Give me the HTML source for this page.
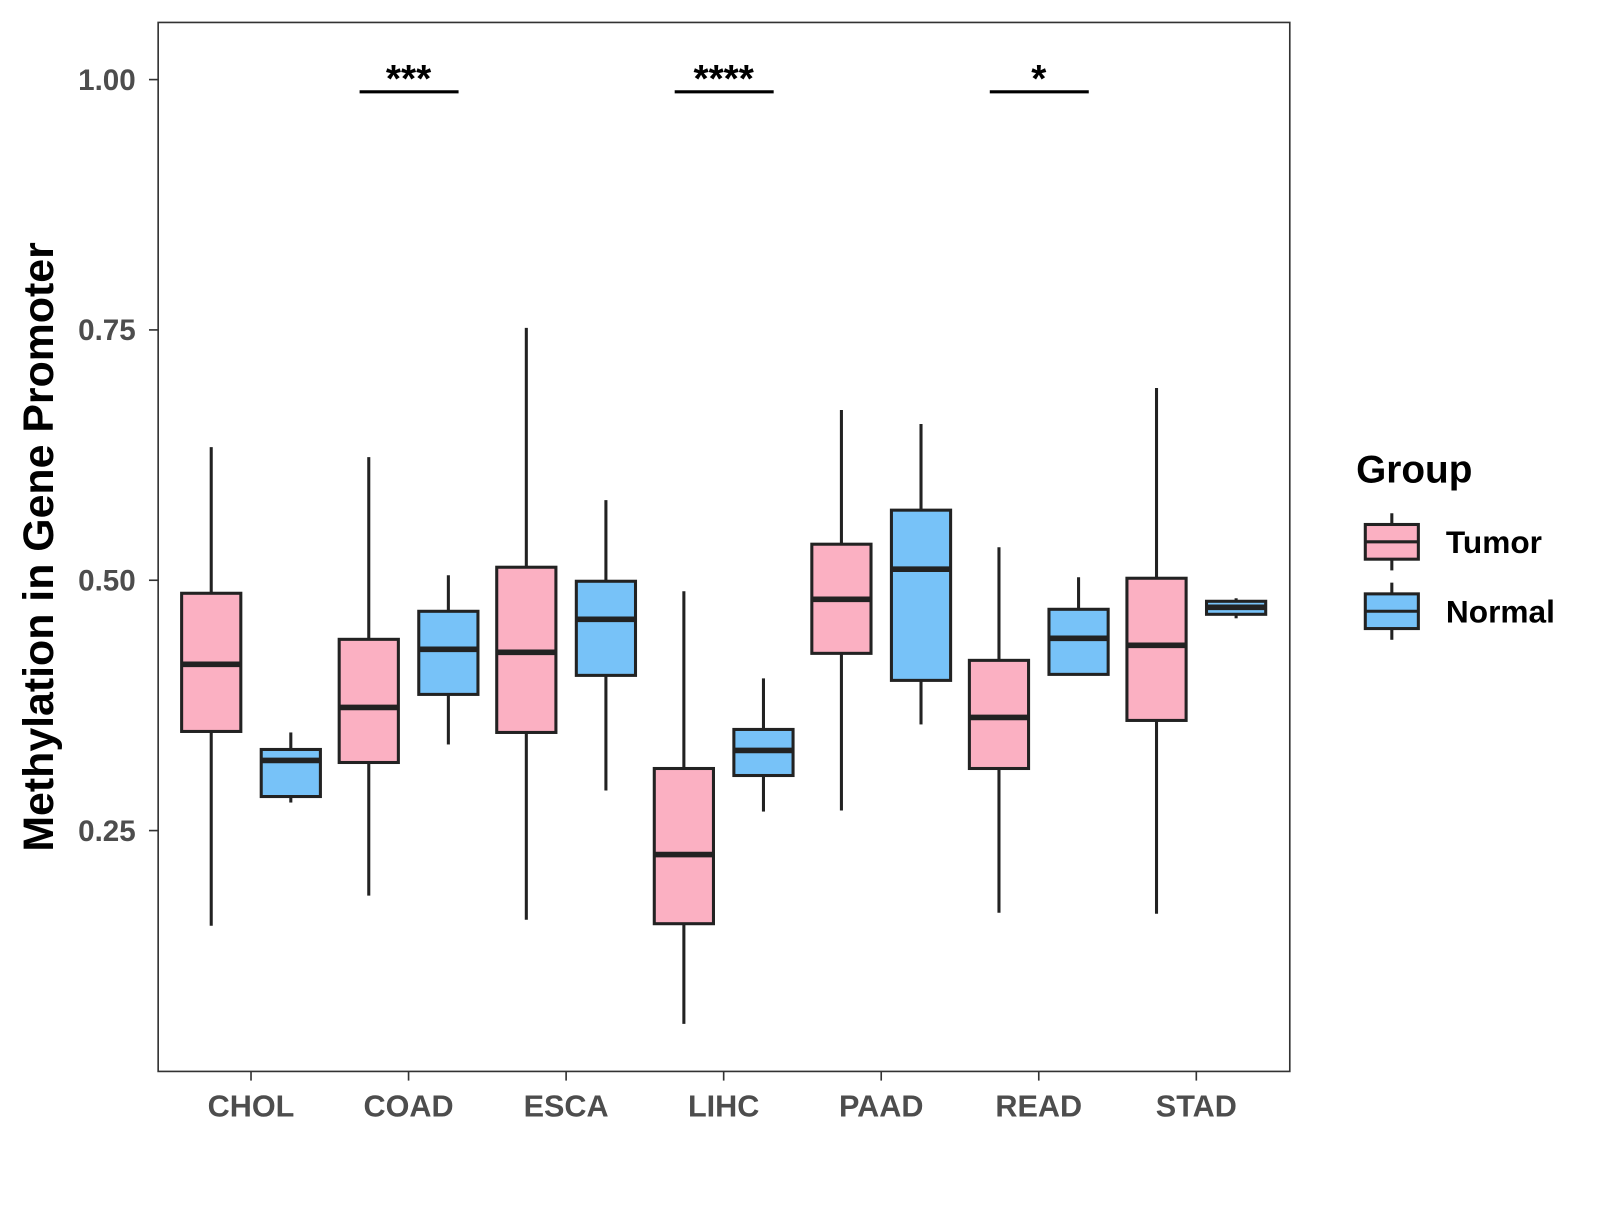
<!DOCTYPE html>
<html><head><meta charset="utf-8"><style>
html,body{margin:0;padding:0;background:#fff;}
svg text{font-family:"Liberation Sans",Arial,sans-serif;font-weight:bold;}
</style></head><body>
<svg id="chart" width="1600" height="1200" xmlns="http://www.w3.org/2000/svg">
<rect x="0" y="0" width="1600" height="1200" fill="#fff"/>
<g id="plot" transform="scale(1.0204)"></g>
</svg>
<script>
const categories = ["CHOL","COAD","ESCA","LIHC","PAAD","READ","STAD"];
// [low whisker, q1, median, q3, high whisker]
const tumorStats = [
 [0.155,0.349,0.416,0.487,0.633],
 [0.185,0.318,0.373,0.441,0.623],
 [0.161,0.348,0.428,0.513,0.752],
 [0.057,0.157,0.226,0.312,0.489],
 [0.270,0.427,0.481,0.536,0.670],
 [0.168,0.312,0.363,0.420,0.533],
 [0.167,0.360,0.435,0.502,0.692]
];
const normalStats = [
 [0.278,0.284,0.320,0.331,0.348],
 [0.336,0.386,0.431,0.469,0.505],
 [0.290,0.405,0.461,0.499,0.580],
 [0.269,0.305,0.330,0.351,0.402],
 [0.356,0.400,0.511,0.570,0.656],
 [0.405,0.406,0.442,0.471,0.503],
 [0.462,0.466,0.473,0.479,0.482]
];
const yTicks = [0.25,0.50,0.75,1.00];
const yTickLabels = ["0.25","0.50","0.75","1.00"];
const sigCategories = ["COAD","LIHC","READ"];
const sigLabels = ["***","****","*"];

const NS="http://www.w3.org/2000/svg";
const g=document.getElementById('plot');
function yS(v){return 78+(1-v)*981.3;}
function xS(i){return 246+i*154.4;}
function el(t,a,p){const e=document.createElementNS(NS,t);for(const k in a)e.setAttribute(k,a[k]);(p||g).appendChild(e);return e;}

const panel=el('rect',{x:155,y:22,width:1109,height:1028,fill:'none',stroke:'#333','stroke-width':1.6});



yTicks.forEach((v,i)=>{
 const t=el('line',{x1:146,x2:155,y1:yS(v),y2:yS(v),stroke:'#333','stroke-width':1.6});
 
 
 const l=el('text',{x:133,y:yS(v)+10,'text-anchor':'end','font-size':29,fill:'#4d4d4d'});
 l.textContent=yTickLabels[i];
 
 
});
categories.forEach((c,i)=>{
 const t=el('line',{x1:xS(i),x2:xS(i),y1:1050,y2:1059,stroke:'#333','stroke-width':1.6});
 
 
 const l=el('text',{x:xS(i),y:1094,'text-anchor':'middle','font-size':30,fill:'#4d4d4d'});
 l.textContent=c;
 
 
});

function box(cx,s,fill,name){
 const gg=el('g',{});
 
 
 el('line',{x1:cx,x2:cx,y1:yS(s[4]),y2:yS(s[3]),stroke:'#222','stroke-width':3},gg);
 el('line',{x1:cx,x2:cx,y1:yS(s[1]),y2:yS(s[0]),stroke:'#222','stroke-width':3},gg);
 el('rect',{x:cx-29,y:yS(s[3]),width:58,height:Math.max(yS(s[1])-yS(s[3]),1),fill:fill,stroke:'#222','stroke-width':3},gg);
 el('line',{x1:cx-29,x2:cx+29,y1:yS(s[2]),y2:yS(s[2]),stroke:'#222','stroke-width':5.5},gg);
}
categories.forEach((c,i)=>{
 box(xS(i)-39,tumorStats[i],'#fbb0c2','tumor-box-'+c.toLowerCase());
 box(xS(i)+39,normalStats[i],'#77c2f8','normal-box-'+c.toLowerCase());
});

sigCategories.forEach((c,k)=>{
 const i=categories.indexOf(c);
 const ln=el('line',{x1:xS(i)-48,x2:xS(i)+49,y1:90,y2:90,stroke:'#000','stroke-width':3});
 
 
 const t=el('text',{x:xS(i),y:90,'text-anchor':'middle','font-size':38,fill:'#000'});
 t.textContent=sigLabels[k];
 
 
});

const yt=el('text',{x:0,y:0,transform:'translate(52,536) rotate(-90)','text-anchor':'middle','font-size':42,fill:'#000'});
yt.textContent='Methylation in Gene Promoter';



const lg=el('g',{});


const lt=el('text',{x:1329,y:473,'font-size':38,fill:'#000'},lg);
lt.textContent='Group';


[['Tumor','#fbb0c2',531],['Normal','#77c2f8',599]].forEach(([n,f,cy])=>{
 const e=el('g',{},lg);
 
 
 el('line',{x1:1364,x2:1364,y1:cy-28,y2:cy+28,stroke:'#222','stroke-width':3},e);
 el('rect',{x:1338,y:cy-17,width:52,height:34,fill:f,stroke:'#222','stroke-width':3},e);
 el('line',{x1:1338,x2:1390,y1:cy,y2:cy,stroke:'#222','stroke-width':3},e);
 const t=el('text',{x:1417,y:cy+11,'font-size':31,fill:'#000'},e);
 t.textContent=n;
});
</script>
</body></html>
